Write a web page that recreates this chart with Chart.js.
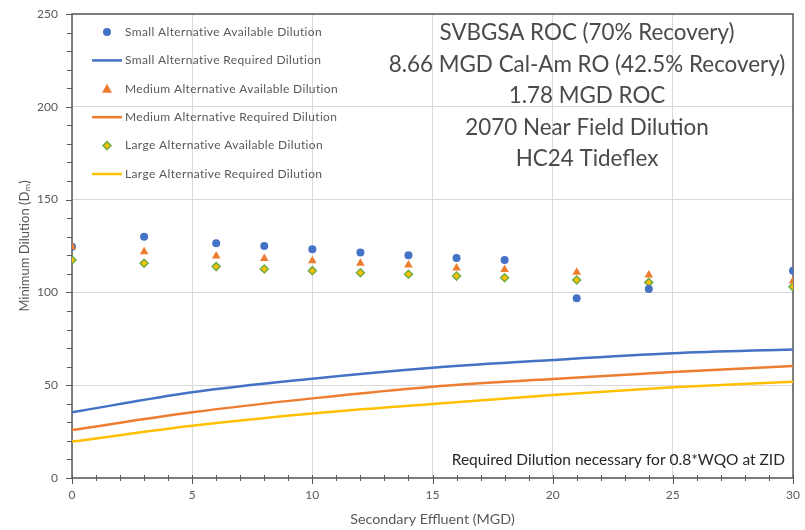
<!DOCTYPE html>
<html>
<head>
<meta charset="utf-8">
<script src="https://cdn.jsdelivr.net/npm/chart.js@4.4.1/dist/chart.umd.min.js"></script>
<style>
  html, body { margin: 0; padding: 0; background: #fff; }
  #wrap { width: 805px; height: 530px; position: relative; }
</style>
</head>
<body>
<div id="wrap"><canvas id="chart"></canvas></div>
<script>
// Secondary effluent (MGD) where available dilution was modelled
const effluent = [0, 3, 6, 8, 10, 12, 14, 16, 18, 21, 24, 30];
const smallAvail = [124.6, 130.0, 126.5, 125.0, 123.3, 121.5, 120.0, 118.6, 117.5, 96.9, 101.8, 111.7];
const mediumAvail = [124.6, 121.9, 119.6, 118.2, 117.1, 115.7, 114.8, 113.1, 112.4, 110.8, 109.4, 106.1];
const largeAvail = [117.5, 115.7, 113.9, 112.6, 111.7, 110.6, 109.8, 108.8, 107.9, 106.7, 105.4, 103.0];

// Required dilution curves
const reqEffluent = [0, 5, 10, 15, 20, 25, 30];
const smallReq = [35.4, 46.2, 53.5, 59.4, 63.6, 67.2, 69.3];
const mediumReq = [25.9, 35.4, 42.9, 49.2, 53.3, 57.1, 60.3];
const largeReq = [19.6, 28.2, 34.8, 39.9, 44.7, 48.9, 51.9];

const xTicks = [0, 5, 10, 15, 20, 25, 30];
const yTicks = [0, 50, 100, 150, 200, 250];

const seriesNames = [
    'Small Alternative Available Dilution',
    'Small Alternative Required Dilution',
    'Medium Alternative Available Dilution',
    'Medium Alternative Required Dilution',
    'Large Alternative Available Dilution',
    'Large Alternative Required Dilution'
];
const titleLines = [
    'SVBGSA ROC (70% Recovery)',
    '8.66 MGD Cal-Am RO (42.5% Recovery)',
    '1.78 MGD ROC',
    '2070 Near Field Dilution',
    'HC24 Tideflex'
];
const footNote = 'Required Dilution necessary for 0.8*WQO at ZID';
const xTitle = 'Secondary Effluent (MGD)';
const yTitle = 'Minimum Dilution (D\u2098)';

const BLUE = '#4472C4', ORANGE = '#ED7D31', YELLOW = '#FFC000', GREEN = '#70AD47';
const FONT = 'Lato, "Open Sans", sans-serif';
const AXIS = '#595959';

function pts(xs, ys) {
    return xs.map((x, i) => ({x: x, y: ys[i]}));
}

function drawMarker(ctx, kind, x, y) {
    ctx.save();
    if (kind === 'circle') {
        ctx.fillStyle = BLUE;
        ctx.beginPath(); ctx.arc(x, y, 4, 0, Math.PI * 2); ctx.fill();
    } else if (kind === 'triangle') {
        ctx.fillStyle = ORANGE;
        ctx.beginPath(); ctx.moveTo(x, y - 5); ctx.lineTo(x + 5, y + 4); ctx.lineTo(x - 5, y + 4); ctx.closePath(); ctx.fill();
    } else {
        ctx.fillStyle = YELLOW; ctx.strokeStyle = GREEN; ctx.lineWidth = 1.5;
        ctx.beginPath(); ctx.moveTo(x, y - 4); ctx.lineTo(x + 4, y); ctx.lineTo(x, y + 4); ctx.lineTo(x - 4, y); ctx.closePath();
        ctx.fill(); ctx.stroke();
    }
    ctx.restore();
}

const extras = {
    id: 'extras',
    beforeDatasetsDraw(chart) {
        const {ctx, chartArea: a, scales: {x, y}} = chart;
        ctx.save();
        ctx.strokeStyle = AXIS;
        ctx.lineWidth = 1.5;
        ctx.strokeRect(a.left, a.top, a.right - a.left, a.bottom - a.top);
        // minor ticks
        ctx.lineWidth = 1;
        ctx.beginPath();
        for (let v = 0; v <= 30; v++) {
            const px = Math.round(x.getPixelForValue(v)) + 0.5;
            ctx.moveTo(px, a.bottom - 3); ctx.lineTo(px, a.bottom + (v % 5 === 0 ? 6 : 3));
        }
        for (let v = 0; v <= 250; v += 10) {
            const py = Math.round(y.getPixelForValue(v)) + 0.5;
            ctx.moveTo(a.left - (v % 50 === 0 ? 6 : 5), py); ctx.lineTo(a.left, py);
        }
        ctx.stroke();
        ctx.restore();
    },
    afterDraw(chart) {
        const {ctx, chartArea: a} = chart;
        ctx.save();
        // legend
        const kinds = ['circle', 'line', 'triangle', 'line', 'diamond', 'line'];
        const lineCols = [BLUE, BLUE, ORANGE, ORANGE, YELLOW, YELLOW];
        ctx.font = '12px ' + FONT;
        ctx.letterSpacing = '0.35px';
        ctx.textBaseline = 'middle';
        ctx.textAlign = 'left';
        seriesNames.forEach((name, i) => {
            const ly = 32 + i * 28.4;
            if (kinds[i] === 'line') {
                ctx.strokeStyle = lineCols[i]; ctx.lineWidth = 2.5;
                ctx.beginPath(); ctx.moveTo(92, ly); ctx.lineTo(122, ly); ctx.stroke();
            } else {
                drawMarker(ctx, kinds[i], 107, ly);
            }
            ctx.fillStyle = AXIS;
            ctx.fillText(name, 125, ly);
        });
        ctx.letterSpacing = '0px';
        // title block
        ctx.fillStyle = '#4a4a4a';
        ctx.font = '22.4px ' + FONT;
        ctx.textAlign = 'center';
        titleLines.forEach((t, i) => ctx.fillText(t, 587, 33 + i * 31.5));
        // foot note
        ctx.fillStyle = '#262626';
        ctx.font = '15.5px ' + FONT;
        ctx.textAlign = 'right';
        ctx.fillText(footNote, 785, 460);
        // axis titles
        ctx.fillStyle = AXIS;
        ctx.font = '14.3px ' + FONT;
        ctx.textAlign = 'center';
        ctx.fillText(xTitle, (a.left + a.right) / 2, 519);
        ctx.font = '13px ' + FONT;
        ctx.translate(25, (a.top + a.bottom) / 2);
        ctx.rotate(-Math.PI / 2);
        ctx.fillText(yTitle, 0, 0);
        ctx.restore();
    }
};

const lineDs = (label, data, color, order) => ({
    label, data, showLine: true, borderColor: color, backgroundColor: color,
    borderWidth: 2.5, pointRadius: 0, cubicInterpolationMode: 'monotone', order
});

function noOverhang(s) {
    s.paddingTop = 0; s.paddingBottom = 0; s.paddingLeft = 0; s.paddingRight = 0;
}

new Chart(document.getElementById('chart'), {
    type: 'scatter',
    data: {
        datasets: [
            {label: seriesNames[0], data: pts(effluent, smallAvail), pointStyle: 'circle', pointRadius: 4,
             backgroundColor: BLUE, borderColor: BLUE, borderWidth: 0, order: 2},
            lineDs(seriesNames[1], pts(reqEffluent, smallReq), BLUE, 5),
            {label: seriesNames[2], data: pts(effluent, mediumAvail), pointStyle: 'triangle', pointRadius: 5,
             backgroundColor: ORANGE, borderColor: ORANGE, borderWidth: 0, order: 1},
            lineDs(seriesNames[3], pts(reqEffluent, mediumReq), ORANGE, 6),
            {label: seriesNames[4], data: pts(effluent, largeAvail), pointStyle: 'rectRot', pointRadius: 4,
             backgroundColor: YELLOW, borderColor: GREEN, borderWidth: 1.5, order: 3},
            lineDs(seriesNames[5], pts(reqEffluent, largeReq), YELLOW, 7)
        ]
    },
    options: {
        responsive: true,
        maintainAspectRatio: false,
        animation: false,
        devicePixelRatio: 1,
        layout: {autoPadding: false, padding: {top: 14, right: 12, left: 0, bottom: 0}},
        plugins: {legend: {display: false}, tooltip: {enabled: false}},
        scales: {
            x: {
                type: 'linear', min: 0, max: 30,
                afterFit: s => { s.height = 52; noOverhang(s); },
                afterBuildTicks: s => { s.ticks = xTicks.map(v => ({value: v})); },
                grid: {color: '#d9d9d9', drawTicks: false},
                border: {display: false},
                ticks: {color: AXIS, font: {family: FONT, size: 12}, padding: 10, maxRotation: 0}
            },
            y: {
                type: 'linear', min: 0, max: 250,
                afterFit: s => { s.width = 72; noOverhang(s); },
                afterBuildTicks: s => { s.ticks = yTicks.map(v => ({value: v})); },
                grid: {color: '#d9d9d9', drawTicks: false},
                border: {display: false},
                ticks: {color: AXIS, font: {family: FONT, size: 12}, padding: 14}
            }
        }
    },
    plugins: [extras]
});
</script>
</body>
</html>
